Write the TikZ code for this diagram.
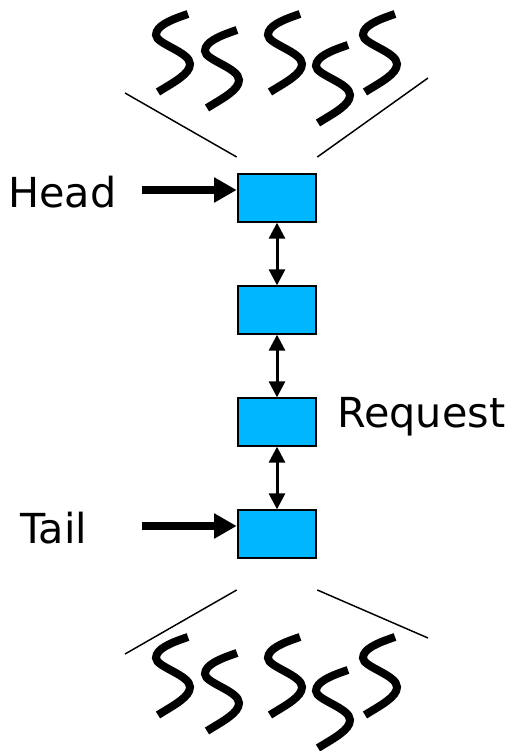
\documentclass[tikz,border=0pt]{standalone}
\usepackage{fontspec}
\setmainfont{DejaVu Sans}
\usetikzlibrary{arrows.meta}

\definecolor{cellblue}{RGB}{0,183,255}

\tikzset{
  cell/.style={draw=black, line width=1.5pt, fill=cellblue, minimum width=59pt, minimum height=35.5pt, inner sep=0pt},
  link/.style={line width=2.25pt, {Triangle[length=12pt,width=12pt]}-{Triangle[length=12pt,width=12pt]}},
  pointer/.style={line width=6pt, -{Triangle[length=17pt,width=18pt]}},
  label/.style={font=\fontsize{31pt}{37pt}\selectfont, inner sep=0pt, anchor=base west},
  fan/.style={line width=1.1pt},
  squiggle/.style={line width=6pt, line cap=butt},
  pics/wiggle/.style={code={
    \draw[squiggle] (0,0) .. controls (-18,6) and (-32,12) .. (-32,21)
                          .. controls (-32,30) and (2,38) .. (2,50)
                          .. controls (2,60) and (-14,68) .. (-30,78);
  }}
}

\begin{document}
\begin{tikzpicture}[x=0.75pt,y=-0.75pt]
  \useasboundingbox (0,0) rectangle (517,751);

  % queue cells
  \node[cell] (c1) at (277,198) {};
  \node[cell] (c2) at (277,310) {};
  \node[cell] (c3) at (277,422) {};
  \node[cell] (c4) at (277,534) {};

  % doubly linked connections
  \draw[link] (c1.south) -- (c2.north);
  \draw[link] (c2.south) -- (c3.north);
  \draw[link] (c3.south) -- (c4.north);

  % labels
  \node[label] (head) at (8,207) {Head};
  \node[label] (tail) at (20,543) {Tail};
  \node[label] (req) at (337,427) {Request};

  % head and tail pointers
  \coordinate (hs) at (142,190);
  \coordinate (ts) at (142,526);
  \draw[pointer] (hs) -- (c1.west |- hs);
  \draw[pointer] (ts) -- (c4.west |- ts);

  % incoming threads (top)
  \coordinate (tl) at (125,93);
  \coordinate (tr) at (428,78);
  \draw[fan] (tl) -- (c1.north west |- 0,157);
  \draw[fan] (tr) -- (c1.north east |- 0,157);
  \pic at (188,14) {wiggle};
  \pic at (237,30) {wiggle};
  \pic at (300,14) {wiggle};
  \pic at (348,45) {wiggle};
  \pic at (395,14) {wiggle};

  % outgoing threads (bottom)
  \coordinate (bl) at (125,654);
  \coordinate (br) at (428,638);
  \draw[fan] (bl) -- (c4.south west |- 0,590);
  \draw[fan] (br) -- (c4.south east |- 0,590);
  \pic at (188,637) {wiggle};
  \pic at (237,653) {wiggle};
  \pic at (300,637) {wiggle};
  \pic at (348,670) {wiggle};
  \pic at (395,637) {wiggle};
\end{tikzpicture}
\end{document}
